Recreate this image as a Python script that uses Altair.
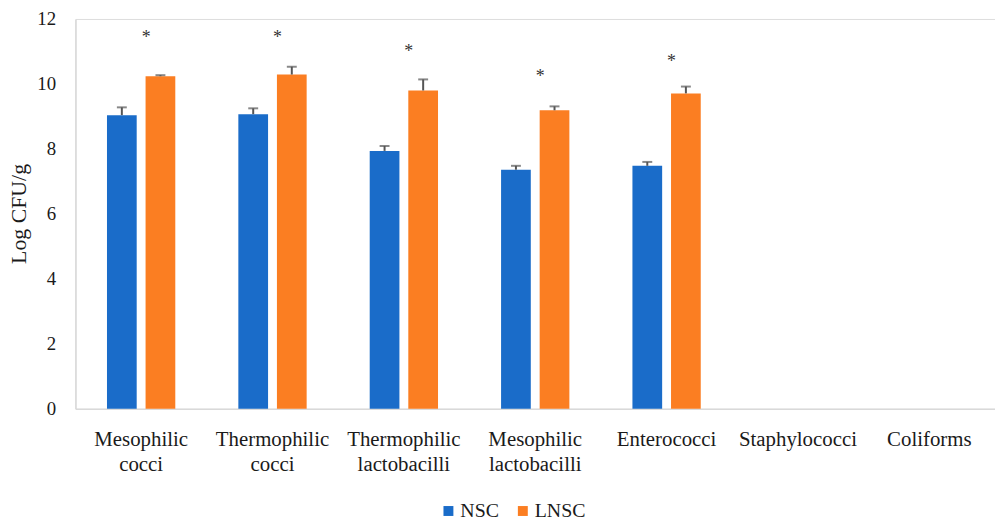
import altair as alt
import pandas as pd

categories = ["Mesophilic cocci", "Thermophilic cocci", "Thermophilic lactobacilli",
              "Mesophilic lactobacilli", "Enterococci", "Staphylococci", "Coliforms"]
groups = ["NSC", "LNSC"]
nsc = [9.04, 9.07, 7.94, 7.36, 7.48, None, None]
nsc_err = [0.24, 0.18, 0.15, 0.12, 0.12, None, None]
lnsc = [10.24, 10.29, 9.80, 9.19, 9.71, None, None]
lnsc_err = [0.03, 0.24, 0.34, 0.12, 0.21, None, None]
star_level = [11.45, 11.45, 11.02, 10.23, 10.69, None, None]
colors = ["#1a6cc9", "#fb7e22"]

rows = []
for c, a, ae, b, be in zip(categories, nsc, nsc_err, lnsc, lnsc_err):
    if a is not None:
        rows.append({"cat": c, "grp": "NSC", "val": a, "hi": a + ae})
    if b is not None:
        rows.append({"cat": c, "grp": "LNSC", "val": b, "hi": b + be})
df = pd.DataFrame(rows)
stars = pd.DataFrame([{"cat": c, "y": s} for c, s in zip(categories, star_level) if s is not None])

FONT = "Liberation Serif"

xenc = alt.X("cat:N", sort=categories,
             scale=alt.Scale(domain=categories, paddingInner=0.48, paddingOuter=0.24),
             axis=alt.Axis(title=None, labelExpr="split(datum.label, ' ')", labelAngle=0,
                           labelFont=FONT, labelFontSize=21, labelColor="#1a1a1a",
                           labelPadding=20, labelLineHeight=25, ticks=False,
                           domainColor="#d9d9d9", domainWidth=1.5))
xoff = alt.XOffset("grp:N", sort=groups, scale=alt.Scale(domain=groups, paddingInner=0.23))
yenc = alt.Y("val:Q", scale=alt.Scale(domain=[0, 12]),
             axis=alt.Axis(title="Log CFU/g", values=[0, 2, 4, 6, 8, 10, 12], grid=False,
                           ticks=False, labelFont=FONT, labelFontSize=19, labelColor="#1a1a1a",
                           labelPadding=20, domainColor="#d9d9d9", domainWidth=1.5,
                           titleFont=FONT, titleFontSize=22, titleFontWeight="normal",
                           titleColor="#1a1a1a", titleX=-45, titleY=196))

bars = alt.Chart(df).mark_bar().encode(
    x=xenc, xOffset=xoff, y=yenc,
    color=alt.Color("grp:N", sort=groups,
                    scale=alt.Scale(domain=groups, range=colors),
                    legend=alt.Legend(title=None, orient="none", direction="horizontal",
                                      legendX=366, legendY=486, symbolType="square",
                                      symbolSize=100, symbolStrokeWidth=0,
                                      labelFont=FONT, labelFontSize=20, labelColor="#1a1a1a",
                                      columnPadding=14, labelOffset=2, padding=0))
)

err = alt.Chart(df).mark_rule(color="#555555", strokeWidth=2).encode(
    x=alt.X("cat:N", sort=categories), xOffset=xoff, y="val:Q", y2="hi:Q"
)
caps = alt.Chart(df).mark_tick(color="#555555", thickness=2, size=10).encode(
    x=alt.X("cat:N", sort=categories), xOffset=xoff, y="hi:Q"
)
star = alt.Chart(stars).mark_text(text="*", font=FONT, fontSize=18, color="#333333",
                                  baseline="alphabetic", dy=6, dx=5).encode(
    x=alt.X("cat:N", sort=categories), y="y:Q"
)

chart = alt.layer(bars, err, caps, star).properties(
    width=927, height=393,
    autosize=alt.AutoSizeParams(type="none"),
    padding={"left": 68, "top": 9, "right": 0, "bottom": 110},
).configure_view(stroke=None).configure(background="white")

chart.save("out.html", embed_options={"renderer": "svg", "actions": False})
